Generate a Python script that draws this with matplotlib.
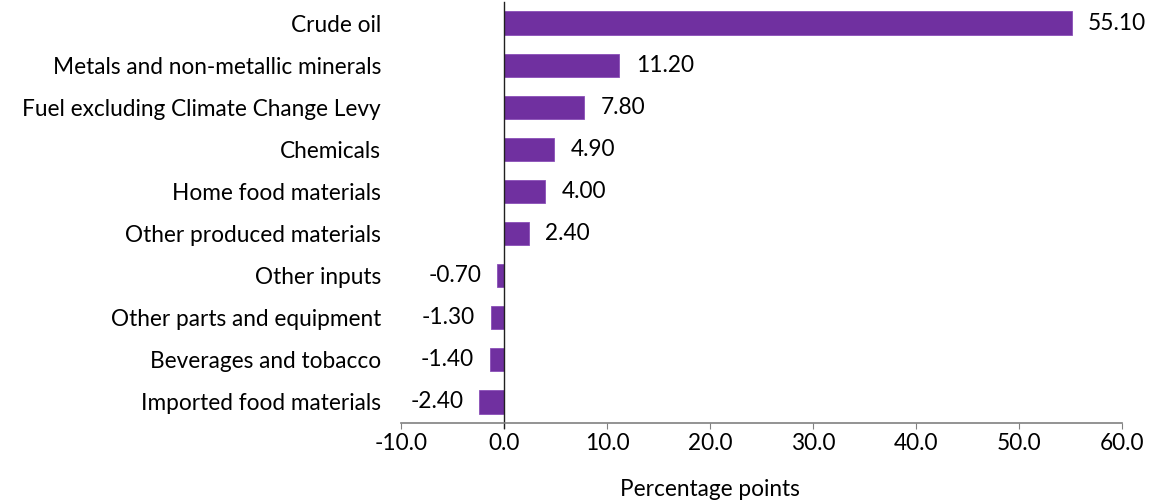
import matplotlib
matplotlib.use("Agg")
import matplotlib.pyplot as plt

categories = ["Crude oil", "Metals and non-metallic minerals",
              "Fuel excluding Climate Change Levy", "Chemicals",
              "Home food materials", "Other produced materials",
              "Other inputs", "Other parts and equipment",
              "Beverages and tobacco", "Imported food materials"]
values = [55.10, 11.20, 7.80, 4.90, 4.00, 2.40, -0.70, -1.30, -1.40, -2.40]
xticks = [-10, 0, 10, 20, 30, 40, 50, 60]

plt.rcParams["font.family"] = ["Lato", "DejaVu Sans"]
fs = 16.3

fig = plt.figure(figsize=(11.58, 5.0), dpi=100)
ax = fig.add_axes([401 / 1158, 1 - 423 / 500, 721 / 1158, 421 / 500])

ypos = list(range(len(categories)))
ax.barh(ypos, values, height=0.55, color="#7030A0", edgecolor="#8a4fb8", lw=0.6)
ax.set_ylim(len(categories) - 0.5, -0.5)
ax.set_xlim(-10, 60)
ax.set_xticks(xticks)
ax.set_xticklabels([f"{t:.1f}" for t in xticks], fontsize=fs)
ax.set_yticks(ypos)
ax.set_yticklabels(categories, fontsize=fs)
ax.tick_params(axis="y", length=0, pad=14.4)
ax.tick_params(axis="x", direction="out", length=4, color="#808080", pad=3)

for y, v in zip(ypos, values):
    if v >= 0:
        ax.text(v + 1.6, y, f"{v:.2f}", va="center", ha="left", fontsize=fs)
    else:
        ax.text(v - 1.5, y, f"{v:.2f}", va="center", ha="right", fontsize=fs)

for side in ("top", "right", "left"):
    ax.spines[side].set_visible(False)
ax.spines["bottom"].set_color("#808080")
ax.spines["bottom"].set_linewidth(1.2)
ax.axvline(0, color="#202020", lw=1.0, ymin=-0.012, clip_on=False)

ax.set_xlabel("Percentage points", fontsize=fs, labelpad=8)
ax.xaxis.set_label_coords((710 - 401) / 721, -0.132)

fig.savefig("out.png", dpi=100)
